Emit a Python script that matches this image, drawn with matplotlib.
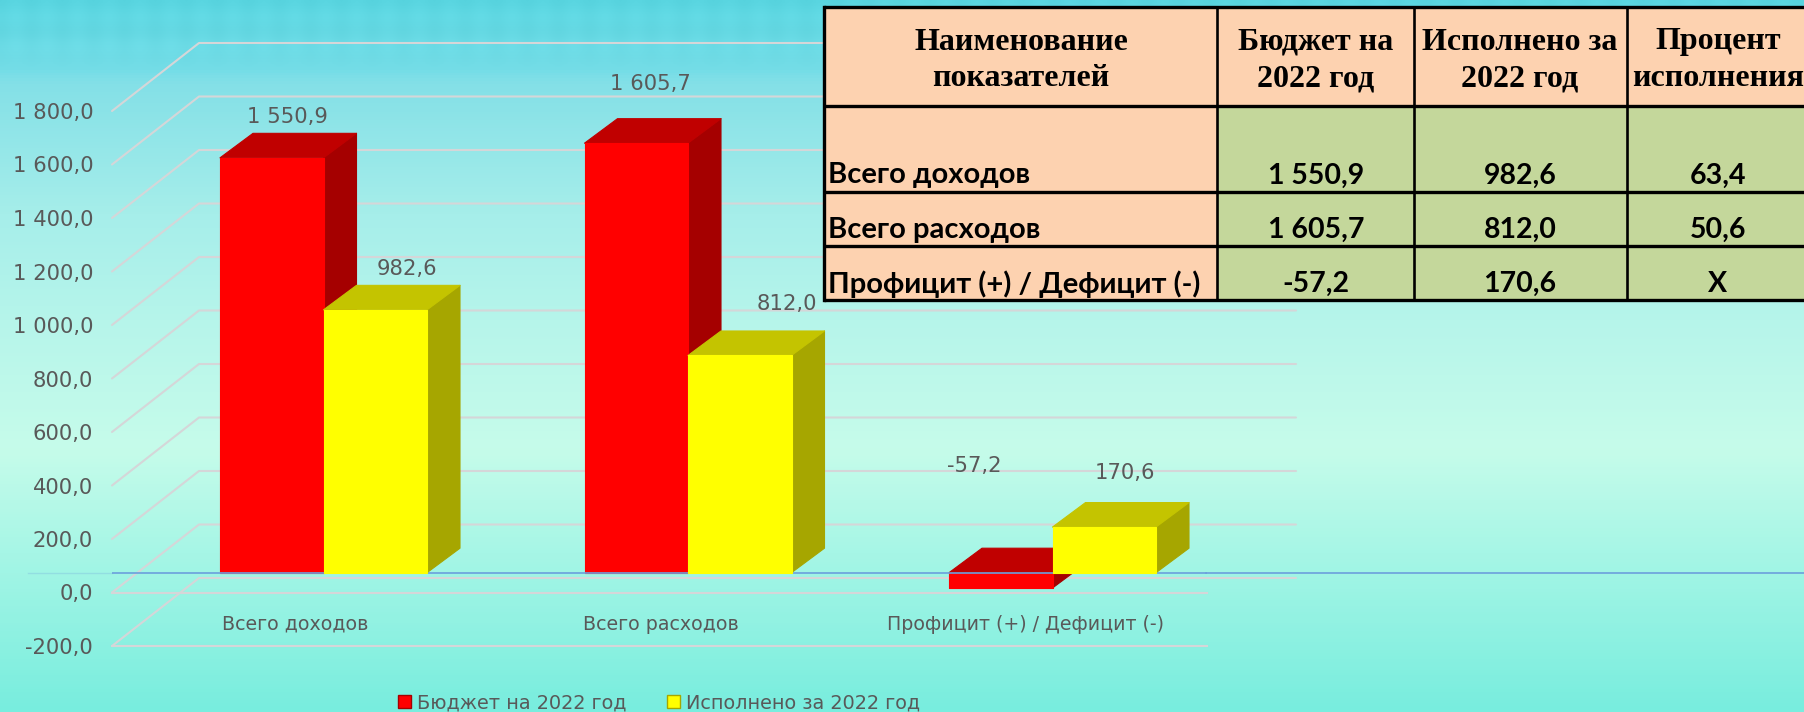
import numpy as np
import matplotlib
matplotlib.use("Agg")
import matplotlib.pyplot as plt
from matplotlib.patches import Polygon, Rectangle, Patch
from matplotlib.colors import LinearSegmentedColormap

categories = ["Всего доходов", "Всего расходов", "Профицит (+) / Дефицит (-)"]
budget = [1550.9, 1605.7, -57.2]
executed = [982.6, 812.0, 170.6]
budget_labels = ["1 550,9", "1 605,7", "-57,2"]
executed_labels = ["982,6", "812,0", "170,6"]
series_names = ["Бюджет на 2022 год", "Исполнено за 2022 год"]
y_values = [-200, 0, 200, 400, 600, 800, 1000, 1200, 1400, 1600, 1800]
y_labels = ["-200,0", "0,0", "200,0", "400,0", "600,0", "800,0", "1 000,0",
            "1 200,0", "1 400,0", "1 600,0", "1 800,0"]

table_header = [["Наименование", "показателей"], ["Бюджет на", "2022 год"],
                ["Исполнено за", "2022 год"], ["Процент", "исполнения"]]
table_names = ["Всего доходов", "Всего расходов", "Профицит (+) / Дефицит (-)"]
table_budget = ["1 550,9", "1 605,7", "-57,2"]
table_executed = ["982,6", "812,0", "170,6"]
table_percent = ["63,4", "50,6", "X"]

W, H = 1804, 712
fig = plt.figure(figsize=(W / 100, H / 100), dpi=100)
TEXT = "#595959"
GRID = "#D5D6D8"


def frame(x0, y0, x1, y1):
    """Axes rectangle from pixel box (y measured from the top)."""
    return [x0 / W, 1 - y1 / H, (x1 - x0) / W, (y1 - y0) / H]


# ---------- background ----------
bg = fig.add_axes([0, 0, 1, 1], zorder=0)
stops = [(0.0, "#5AD6E1"), (0.096, "#74DDE7"), (0.115, "#84E0E7"), (0.30, "#A6EEEA"),
         (0.45, "#B6F5EB"), (0.63, "#C6FCEA"), (0.78, "#A6F6E6"), (1.0, "#78EDDE")]
cmap = LinearSegmentedColormap.from_list("bg", stops)
yy, xx = np.mgrid[0:H, 0:W]
grad = cmap(yy / (H - 1))[..., :3]
L = 62.0
tile = np.cos(2 * np.pi * (xx + yy) / L) * np.cos(2 * np.pi * (xx - yy) / L)
fade = np.clip((72 - yy) / 30, 0, 1)
grad = grad - (tile * fade * 0.012)[..., None]
bg.imshow(np.clip(grad, 0, 1), aspect="auto", extent=(0, W, H, 0), interpolation="bilinear")
bg.axis("off")

# ---------- axis plane: ticks, walls and floors ----------
PX_X0, PX_X1, PX_TOP, PX_BOT = 112, 1207, 111, 646
ag = fig.add_axes(frame(PX_X0, PX_TOP, PX_X1, PX_BOT), zorder=1)
ag.patch.set_visible(False)
ag.set_xlim(-0.503, 2.497)
ag.set_ylim(-200, 1800)
ag.set_yticks(y_values, y_labels)
ag.set_xticks(range(3), categories)
for s in ag.spines.values():
    s.set_visible(False)
ag.tick_params(axis="y", length=0, pad=13.5, labelsize=15.2, labelcolor=TEXT)
ag.tick_params(axis="x", length=0, pad=-22.5, labelsize=13.7, labelcolor=TEXT)

px_per_unit = (PX_BOT - PX_TOP) / 2000
depth_x = 87 / (PX_X1 - PX_X0)
depth_y = 68 / px_per_unit
back_end = (1296 - PX_X0) / (PX_X1 - PX_X0)
trans = ag.get_yaxis_transform()
for v in y_values:
    xs = [0, depth_x, back_end]
    ys = [v, v + depth_y, v + depth_y]
    ag.plot(xs, ys, color=GRID, lw=1.5, transform=trans, clip_on=False, zorder=1,
            solid_capstyle="round", solid_joinstyle="round")
    if v <= 0:
        ag.plot([0, 1], [v, v], color=GRID, lw=1.5, transform=trans, clip_on=False, zorder=1)

# ---------- bar plane ----------
ab = fig.add_axes(frame(PX_X0, PX_TOP, PX_X1, PX_BOT), zorder=2)
ab.patch.set_visible(False)
ab.axis("off")
ZERO_PX = 572.7
ab.set_ylim((ZERO_PX - PX_BOT) / px_per_unit, (ZERO_PX - PX_TOP) / px_per_unit)
ab.set_xlim((PX_X0 - 323.5) / 364.5, (PX_X1 - 323.5) / 364.5)
BAR_W = 103.5 / 364.5
DX = 33 / 364.5
DY = 24.5 / px_per_unit


def bars(offset, values, front, top, side, z, name):
    xs = np.arange(3) + offset
    for x, val in zip(xs, values):
        x0, x1 = x - BAR_W / 2, x + BAR_W / 2
        hi = max(val, 0)
        lo = min(val, 0)
        ab.add_patch(Polygon([(x1, lo), (x1 + DX, lo + DY), (x1 + DX, hi + DY), (x1, hi)],
                             closed=True, fc=side, ec=side, lw=0.8, joinstyle="round",
                             zorder=z, clip_on=False))
        ab.add_patch(Polygon([(x0, hi), (x0 + DX, hi + DY), (x1 + DX, hi + DY), (x1, hi)],
                             closed=True, fc=top, ec=top, lw=0.8, joinstyle="round",
                             zorder=z, clip_on=False))
    return ab.bar(xs, values, width=BAR_W, color=front, zorder=z + 0.1, label=name,
                  edgecolor=front, linewidth=0.8, joinstyle="round", clip_on=False)


bars(-BAR_W / 2, budget, "#FF0000", "#C00000", "#A50000", 3, series_names[0])
bars(BAR_W / 2, executed, "#FFFF00", "#C4C400", "#A6A600", 4, series_names[1])
ab.axhline(0, xmin=0, xmax=1, color="#6C9FDC", lw=1.2, zorder=3.5)
ab.plot([-0.81, -0.58], [0, 0], color="#6C9FDC", lw=1.0, alpha=0.25, clip_on=False, zorder=3.5)
ab.plot([2.42, 4.1], [0, 0], color="#6C9FDC", lw=1.2, clip_on=False, zorder=3.5)

label_offsets_budget = [(16, 41), (14, 59), (-27, 122)]
label_offsets_executed = [(32, 41), (47, 51), (21, 54)]
for i in range(3):
    ab.annotate(budget_labels[i], (i - BAR_W / 2, budget[i]), xytext=label_offsets_budget[i],
                textcoords="offset pixels", ha="center", va="center", fontsize=15.2,
                color=TEXT, zorder=5, annotation_clip=False)
    ab.annotate(executed_labels[i], (i + BAR_W / 2, executed[i]), xytext=label_offsets_executed[i],
                textcoords="offset pixels", ha="center", va="center", fontsize=15.2,
                color=TEXT, zorder=5, annotation_clip=False)

handles = [Patch(fc="#FF0000", ec="#A50000", label=series_names[0]),
           Patch(fc="#FFFF00", ec="#A6A600", label=series_names[1])]
fig.legend(handles=handles, loc="lower left", bbox_to_anchor=(383 / W, -16 / H), ncols=2,
           frameon=False, fontsize=13.9, labelcolor=TEXT, handlelength=0.66, handleheight=0.66,
           handletextpad=0.3, columnspacing=2.1, borderpad=0.3)

# ---------- table ----------
at = fig.add_axes([0, 0, 1, 1], zorder=6)
at.patch.set_visible(False)
at.set_xlim(0, W)
at.set_ylim(H, 0)
at.axis("off")
col_x = [824, 1217, 1414, 1627, 1812]
row_y = [7, 106, 192, 246, 300]
PEACH, GREEN = "#FDD2B0", "#C4D79B"
at.add_patch(Rectangle((col_x[0], row_y[0]), col_x[-1] - col_x[0], row_y[1] - row_y[0], fc=PEACH, ec="none"))
at.add_patch(Rectangle((col_x[0], row_y[1]), col_x[1] - col_x[0], row_y[4] - row_y[1], fc=PEACH, ec="none"))
at.add_patch(Rectangle((col_x[1], row_y[1]), col_x[-1] - col_x[1], row_y[4] - row_y[1], fc=GREEN, ec="none"))
for x in col_x[:-1]:
    at.plot([x, x], [row_y[0], row_y[-1]], color="black", lw=1.9 if x != col_x[0] else 2.4, clip_on=False,
            solid_capstyle="projecting")
for y in row_y:
    at.plot([col_x[0], W], [y, y], color="black", lw=2.4, solid_capstyle="butt")

col_cx = [1021, 1316, 1520, 1718]
SERIF = "Liberation Serif"
for cx, (a, b) in zip(col_cx, table_header):
    at.text(cx, 42, a, ha="center", va="center", family=SERIF, weight="bold", fontsize=23, color="black")
    at.text(cx, 79, b, ha="center", va="center", family=SERIF, weight="bold", fontsize=23, color="black")
row_cy = [175.5, 230, 284]
SANS = "Lato"
BODY, NUM = 21, 20.5
for i, cy in enumerate(row_cy):
    at.text(828, cy, table_names[i], ha="left", va="center", family=SANS, weight="bold",
            fontsize=BODY, color="black")
    at.text(col_cx[1], cy, table_budget[i], ha="center", va="center", family=SANS, weight="bold",
            fontsize=NUM, color="black")
    at.text(col_cx[2], cy, table_executed[i], ha="center", va="center", family=SANS, weight="bold",
            fontsize=NUM, color="black")
    at.text(col_cx[3], cy, table_percent[i], ha="center", va="center", family=SANS, weight="bold",
            fontsize=NUM, color="black")

fig.savefig("out.png", dpi=100)
